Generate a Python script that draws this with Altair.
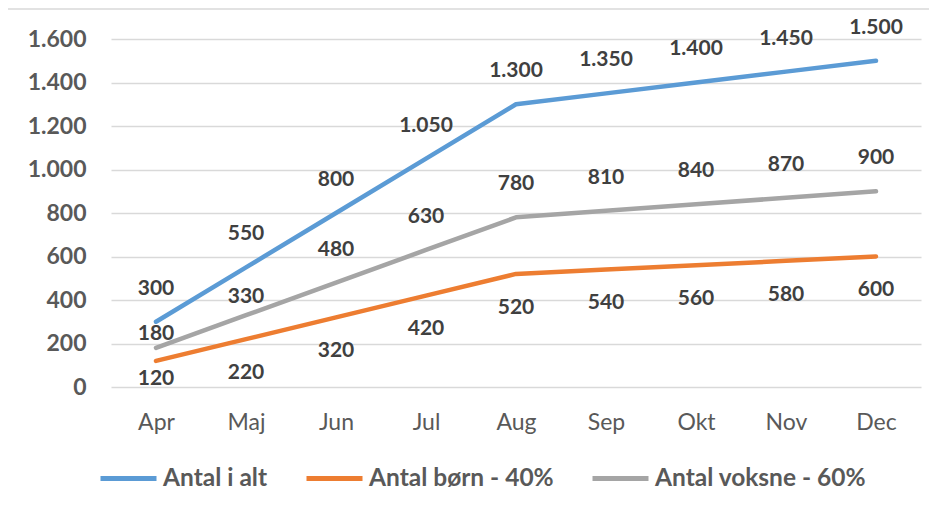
import altair as alt
import pandas as pd

months = ["Apr", "Maj", "Jun", "Jul", "Aug", "Sep", "Okt", "Nov", "Dec"]
series_names = ["Antal i alt", "Antal børn - 40%", "Antal voksne - 60%"]
total = [300, 550, 800, 1050, 1300, 1350, 1400, 1450, 1500]
born = [120, 220, 320, 420, 520, 540, 560, 580, 600]
voksne = [180, 330, 480, 630, 780, 810, 840, 870, 900]
colors = ["#5B9BD5", "#ED7D31", "#A5A5A5"]
y_ticks = [0, 200, 400, 600, 800, 1000, 1200, 1400, 1600]

rows = []
for name, vals in zip(series_names, [total, born, voksne]):
    for m, v in zip(months, vals):
        rows.append({"month": m, "series": name, "value": v})
df = pd.DataFrame(rows)

FONT = "Lato"

x = alt.X("month:N", sort=months, scale=alt.Scale(type="point", padding=0.5),
          axis=alt.Axis(title=None, labelAngle=0, ticks=False, domain=False, grid=False,
                        labelFont=FONT, labelFontSize=23, labelColor="#595959",
                        labelPadding=24))
y = alt.Y("value:Q", scale=alt.Scale(domain=[0, 1600], nice=False),
          axis=alt.Axis(title=None, values=y_ticks, ticks=False, domain=False,
                        grid=True, gridColor="#D9D9D9", gridWidth=1.3,
                        labelFont=FONT, labelFontSize=23, labelFontWeight="bold",
                        labelColor="#595959", labelPadding=25,
                        labelExpr="replace(format(datum.value, ','), ',', '.')"))

color = alt.Color("series:N", sort=series_names,
                  scale=alt.Scale(domain=series_names, range=colors),
                  legend=alt.Legend(title=None, orient="none", direction="horizontal",
                                    legendX=-13, legendY=409,
                                    symbolType="stroke", symbolSize=3136,
                                    symbolStrokeWidth=5, labelOffset=4,
                                    columnPadding=28, labelLimit=400,
                                    labelFont=FONT, labelFontSize=24.5,
                                    labelFontWeight="bold", labelColor="#595959"))

base = alt.Chart(df)

lines = base.mark_line(strokeWidth=4.5, strokeCap="round", strokeJoin="round").encode(
    x=x, y=y, color=color, detail="series:N")

# label placement like the original: above for total/adults, below for children,
# kept inside the plot area, two adult labels nudged off the total line
label_y = (
    "datum.series == 'Antal børn - 40%' ? max(datum.value - 155, 37) : "
    "(datum.series == 'Antal voksne - 60%' && datum.month == 'Apr') ? datum.value + 64 : "
    "(datum.series == 'Antal voksne - 60%' && datum.month == 'Maj') ? datum.value + 83 : "
    "datum.value + 152"
)

labels = base.transform_calculate(
    lab="replace(format(datum.value, ','), ',', '.')",
    ly=label_y,
).mark_text(font=FONT, fontSize=21, fontWeight="bold", color="#404040",
            baseline="middle").encode(
    x=x, y=alt.Y("ly:Q", scale=alt.Scale(domain=[0, 1600], nice=False)), text="lab:N")

frame_left = alt.Chart(pd.DataFrame({"a": [0]})).mark_rule(
    color="#D9D9D9", strokeWidth=1.5, clip=False
).encode(x=alt.value(-104), y=alt.value(-30), y2=alt.value(460))

frame_top = alt.Chart(pd.DataFrame({"a": [0]})).mark_rule(
    color="#D9D9D9", strokeWidth=1.5, clip=False
).encode(x=alt.value(-104), x2=alt.value(830), y=alt.value(-30))

chart = alt.layer(frame_left, frame_top, lines, labels).properties(
    width=810, height=348,
    autosize=alt.AutoSizeParams(type="none"),
    padding={"left": 103, "top": 31, "right": 8, "bottom": 108},
    background="white",
).configure_view(stroke=None)

chart.save("out.html", embed_options={"renderer": "svg", "actions": False})
